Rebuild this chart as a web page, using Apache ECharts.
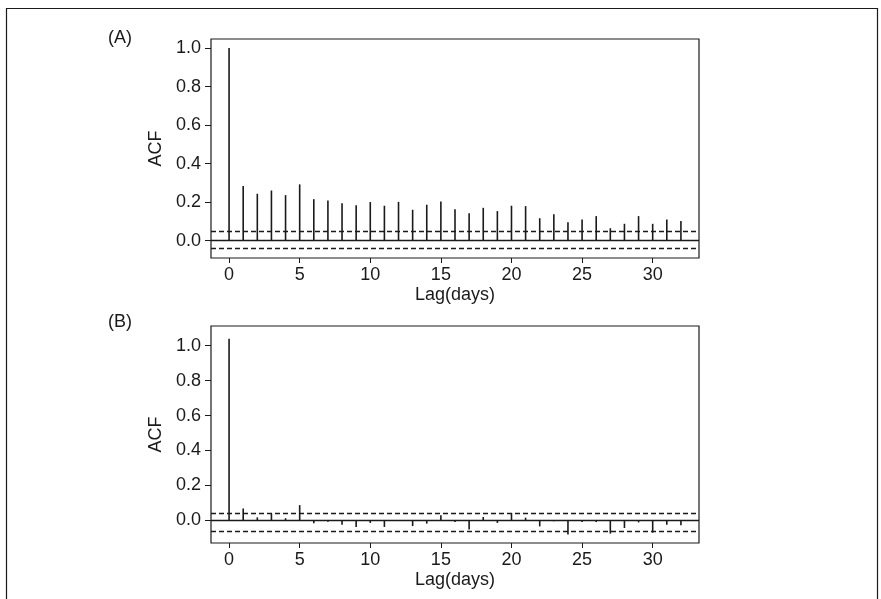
<!DOCTYPE html>
<html>
<head>
<meta charset="utf-8">
<script src="https://cdn.jsdelivr.net/npm/echarts@6/dist/echarts.min.js"></script>
<style>
  html, body { margin: 0; padding: 0; background: #fff; }
  #acf-chart { width: 881px; height: 599px; }
</style>
</head>
<body>
<div id="acf-chart"></div>
<script>
var lags = [];
for (var i = 0; i <= 32; i++) lags.push(i);

// ACF values
var acfA = [1.0, 0.283, 0.243, 0.260, 0.236, 0.292, 0.215, 0.208, 0.194, 0.184,
            0.200, 0.181, 0.201, 0.160, 0.186, 0.203, 0.163, 0.142, 0.170, 0.153,
            0.181, 0.179, 0.116, 0.137, 0.095, 0.109, 0.127, 0.064, 0.087, 0.127,
            0.087, 0.109, 0.102];
var acfB = [1.04, 0.067, 0.017, 0.038, 0.012, 0.087, -0.017, -0.008, -0.025, -0.038,
            -0.015, -0.038, -0.004, -0.033, -0.019, 0.029, -0.010, -0.052, 0.019, -0.015,
            0.042, 0.015, -0.035, -0.005, -0.082, -0.010, -0.010, -0.076, -0.044, -0.012,
            -0.071, -0.025, -0.029];
var boundsA = [0.047, -0.044];
var boundsB = [0.045, -0.058];
var xTicks = [0, 5, 10, 15, 20, 25, 30];
var yTicks = [0, 0.2, 0.4, 0.6, 0.8, 1.0];
var panelLabels = ['(A)', '(B)'];

var chart = echarts.init(document.getElementById('acf-chart'));
var font = 'Liberation Sans, Arial, sans-serif';
var ink = '#1a1a1a';

function spikeItem(params, api) {
  var p0 = api.coord([api.value(0), 0]);
  var p1 = api.coord([api.value(0), api.value(1)]);
  return {
    type: 'line',
    shape: { x1: p0[0], y1: p0[1], x2: p1[0], y2: p1[1] },
    style: { stroke: ink, lineWidth: 1.6 }
  };
}

function makeXAxis(idx) {
  return {
    type: 'value', gridIndex: idx, min: -1.28, max: 33.28,
    name: 'Lag(days)', nameLocation: 'middle', nameGap: 28,
    nameTextStyle: { fontFamily: font, fontSize: 18, color: ink },
    axisLine: { show: false, onZero: false },
    axisTick: { show: true, length: 5, customValues: xTicks, lineStyle: { color: ink } },
    axisLabel: { customValues: xTicks, margin: 8, fontFamily: font, fontSize: 18, color: ink },
    splitLine: { show: false }
  };
}

function makeYAxis(idx, lo, hi) {
  return {
    type: 'value', gridIndex: idx, min: lo, max: hi,
    name: 'ACF', nameLocation: 'middle', nameGap: 38, nameRotate: 90,
    nameTextStyle: { fontFamily: font, fontSize: 18, color: ink },
    axisLine: { show: false, onZero: false },
    axisTick: { show: true, length: 6, customValues: yTicks, lineStyle: { color: ink } },
    axisLabel: {
      customValues: yTicks, margin: 10, fontFamily: font, fontSize: 18, color: ink,
      formatter: function (v) { return v.toFixed(1); }
    },
    splitLine: { show: false }
  };
}

function makeSeries(idx, values, bounds) {
  var data = lags.map(function (l, k) { return [l, values[k]]; });
  return {
    type: 'custom', xAxisIndex: idx, yAxisIndex: idx,
    renderItem: spikeItem, data: data, silent: true,
    markLine: {
      silent: true, symbol: 'none', label: { show: false },
      data: [
        { yAxis: 0, lineStyle: { type: 'solid', color: ink, width: 1.3 } },
        { yAxis: bounds[0], lineStyle: { type: [5, 3], color: ink, width: 1.3 } },
        { yAxis: bounds[1], lineStyle: { type: [5, 3], color: ink, width: 1.3 } }
      ]
    }
  };
}

var option = {
  backgroundColor: '#fff',
  animation: false,
  grid: [
    { left: 211, top: 39, width: 488, height: 219, show: true, borderColor: ink, borderWidth: 1.2, backgroundColor: 'transparent' },
    { left: 211, top: 326, width: 488, height: 217, show: true, borderColor: ink, borderWidth: 1.2, backgroundColor: 'transparent' }
  ],
  xAxis: [makeXAxis(0), makeXAxis(1)],
  yAxis: [makeYAxis(0, -0.0906, 1.047), makeYAxis(1, -0.13, 1.113)],
  series: [makeSeries(0, acfA, boundsA), makeSeries(1, acfB, boundsB)],
  graphic: [
    { type: 'rect', shape: { x: 6.5, y: 8.5, width: 871, height: 600 }, style: { fill: 'none', stroke: ink, lineWidth: 1.2 } },
    { type: 'text', x: 108, y: 38, style: { text: panelLabels[0], font: '18px ' + font, fill: ink, verticalAlign: 'middle' } },
    { type: 'text', x: 108, y: 322, style: { text: panelLabels[1], font: '18px ' + font, fill: ink, verticalAlign: 'middle' } }
  ]
};

chart.setOption(option);
</script>
</body>
</html>
